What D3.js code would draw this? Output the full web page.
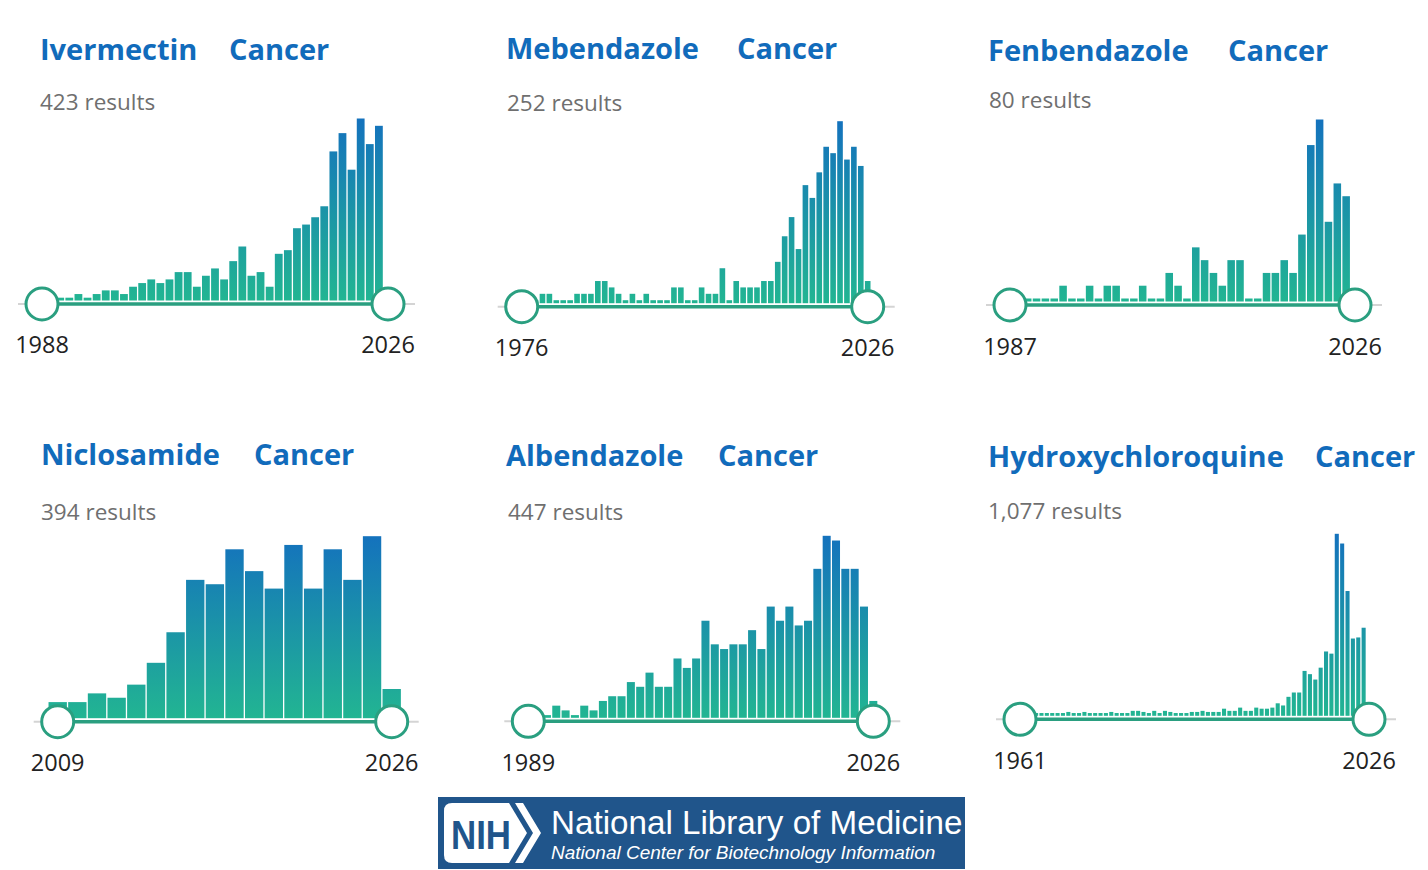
<!DOCTYPE html>
<html><head><meta charset="utf-8">
<script src="https://cdn.jsdelivr.net/npm/d3@7"></script>
<style>html,body{margin:0;padding:0;background:#fff;} svg{display:block;}</style>
</head><body>
<svg id="chart" width="1428" height="870"></svg>
<script>
// ---------------- data ----------------
const drugNames = ["Ivermectin", "Mebendazole", "Fenbendazole", "Niclosamide", "Albendazole", "Hydroxychloroquine"];
const queryTerm = "Cancer";
const resultLabels = ["423 results", "252 results", "80 results", "394 results", "447 results", "1,077 results"];
const startYears = [1988, 1976, 1987, 2009, 1989, 1961];
const endYear = 2026;

// publications per year, from the start year through 2026
const ivermectinCounts = [0,0,0,0,1,0,1,2,2,1, 3,4,5,4,5,7,7,3,6,8, 5,10,14,6,7,3,12,13,19,20, 22,25,40,45,35,49,42,47,2];
const mebendazoleCounts = [0,0,0,1,1,0,0,0,1,1, 1,3,3,2,1,0,1,0,1,0, 0,0,2,2,0,0,2,1,1,5, 0,3,2,2,2,3,3,6,10,13, 8,18,16,20,24,23,28,22,24,21, 3];
const fenbendazoleCounts = [0,0,0,0,0,0,1,0,0,1, 0,1,1,0,0,1,0,0,2,1, 0,4,3,2,1,3,3,0,0,2, 2,3,2,5,12,14,6,9,8,0];
const niclosamideCounts = [3,3,5,4,7,12,19,31,30,38,33,29,39,29,38,31,41,6];
const albendazoleCounts = [0,0,0,2,1,0,2,1,3,4, 4,7,6,9,6,6,12,10,12,20, 15,14,15,15,18,14,23,20,23,19, 20,31,38,37,31,31,23,3];
const hydroxychloroquineCounts = [1,1,1,1,1,1,1,1,1,2, 1,1,2,1,1,1,1,2,1,1, 1,3,3,2,1,3,1,3,2,1, 1,1,2,2,3,2,2,2,5,3, 3,6,3,3,6,5,5,6,10,8, 16,20,20,40,37,32,43,58,56,167, 158,114,70,71,80,5];

const seriesCounts = [ivermectinCounts, mebendazoleCounts, fenbendazoleCounts, niclosamideCounts, albendazoleCounts, hydroxychloroquineCounts];

// ---------------- layout ----------------
const layout = [
  {titleX: 40,  cancerX: 229,  titleY: 59.5,  resX: 40,  resY: 110, cxL: 42,    cxR: 388,   cy: 304,   yearY: 353, minH: 2.8},
  {titleX: 506, cancerX: 737,  titleY: 58.5,  resX: 507, resY: 111, cxL: 521.7, cxR: 867.7, cy: 306.7, yearY: 356, minH: 3},
  {titleX: 988, cancerX: 1228, titleY: 60.5,  resX: 989, resY: 108, cxL: 1010,  cxR: 1355,  cy: 305,   yearY: 355, minH: 3},
  {titleX: 41,  cancerX: 254,  titleY: 464.5, resX: 41,  resY: 520, cxL: 57.7,  cxR: 391.7, cy: 721.7, yearY: 771, minH: 3},
  {titleX: 506, cancerX: 718,  titleY: 465.5, resX: 508, resY: 520, cxL: 528.3, cxR: 873.3, cy: 721.3, yearY: 771, minH: 2.7},
  {titleX: 988, cancerX: 1315, titleY: 466.5, resX: 988, resY: 519, cxL: 1020,  cxR: 1369,  cy: 719.3, yearY: 769, minH: 1.7}
];

const CHART_H = 182;
const TEAL = "#2a9f80";
const titleColor = "#116bbb";

const svg = d3.select("#chart");
svg.append("rect").attr("width", 1428).attr("height", 870).attr("fill", "#fff");
const defs = svg.append("defs");

seriesCounts.forEach((counts, i) => {
  const L = layout[i];
  const years = d3.range(startYears[i], endYear + 1);
  const base = L.cy - 3.5;
  const x = d3.scaleLinear().domain([startYears[i], endYear]).range([L.cxL, L.cxR]);
  const pitch = x(startYears[i] + 1) - x(startYears[i]);
  const bw = pitch - 1.3;
  const y = d3.scaleLinear().domain([0, d3.max(counts)]).range([base - L.minH, base - CHART_H]);

  const gid = "grad" + i;
  const g = defs.append("linearGradient").attr("id", gid)
    .attr("gradientUnits", "userSpaceOnUse")
    .attr("x1", 0).attr("x2", 0).attr("y1", base).attr("y2", base - CHART_H);
  g.append("stop").attr("offset", "0%").attr("stop-color", "#22b592");
  g.append("stop").attr("offset", "100%").attr("stop-color", "#1472bd");

  const panel = svg.append("g");

  panel.append("g").selectAll("rect").data(years.map((yr, k) => ({yr, v: counts[k]})))
    .join("rect")
    .attr("x", d => x(d.yr) - bw / 2)
    .attr("width", bw)
    .attr("y", d => y(d.v))
    .attr("height", d => base - y(d.v))
    .attr("fill", `url(#${gid})`);

  // slider
  panel.append("line").attr("x1", L.cxL - 24).attr("x2", L.cxR + 27)
    .attr("y1", L.cy).attr("y2", L.cy).attr("stroke", "#d4d4d4").attr("stroke-width", 2);
  panel.append("line").attr("x1", L.cxL).attr("x2", L.cxR)
    .attr("y1", L.cy).attr("y2", L.cy).attr("stroke", TEAL).attr("stroke-width", 3.5);
  [L.cxL, L.cxR].forEach(cx => {
    panel.append("circle").attr("cx", cx).attr("cy", L.cy).attr("r", 16)
      .attr("fill", "#fff").attr("stroke", TEAL).attr("stroke-width", 3);
  });

  // year labels
  [startYears[i], endYear].forEach(yr => {
    panel.append("text").attr("x", x(yr)).attr("y", L.yearY)
      .attr("text-anchor", "middle")
      .attr("font-family", "'Open Sans', sans-serif").attr("font-size", 23.5)
      .attr("fill", "#222").text(yr);
  });

  // title
  panel.append("text").attr("x", L.titleX).attr("y", L.titleY)
    .attr("font-family", "'Open Sans', sans-serif").attr("font-weight", 700)
    .attr("font-size", 29).attr("fill", titleColor).text(drugNames[i]);
  panel.append("text").attr("x", L.cancerX).attr("y", L.titleY)
    .attr("font-family", "'Open Sans', sans-serif").attr("font-weight", 700)
    .attr("font-size", 29).attr("fill", titleColor).text(queryTerm);

  panel.append("text").attr("x", L.resX).attr("y", L.resY)
    .attr("font-family", "'Open Sans', sans-serif").attr("font-size", 22.5)
    .attr("fill", "#6f6f6f").text(resultLabels[i]);
});

// ---------------- NLM logo ----------------
const logo = svg.append("g");
const logoBlue = "#20558b";
logo.append("rect").attr("x", 438).attr("y", 797).attr("width", 527).attr("height", 72).attr("fill", logoBlue);
logo.append("path")
  .attr("d", "M452 803 H509 L527 833 L509 863 H452 Q444 863 444 855 V811 Q444 803 452 803 Z")
  .attr("fill", "#fff");
logo.append("path")
  .attr("d", "M515 803 H523 L541 833 L523 863 H515 L533 833 Z")
  .attr("fill", "#fff");
logo.append("text").attr("x", 451).attr("y", 849)
  .attr("font-family", "'Liberation Sans', Arial, sans-serif").attr("font-weight", 700)
  .attr("font-size", 40).attr("textLength", 60).attr("lengthAdjust", "spacingAndGlyphs")
  .attr("fill", logoBlue).text("NIH");
logo.append("text").attr("x", 551).attr("y", 834)
  .attr("font-family", "'Liberation Sans', Arial, sans-serif")
  .attr("font-size", 33.2).attr("fill", "#fff").text("National Library of Medicine");
logo.append("text").attr("x", 551).attr("y", 859)
  .attr("font-family", "'Liberation Sans', Arial, sans-serif").attr("font-style", "italic")
  .attr("font-size", 19).attr("fill", "#fff").text("National Center for Biotechnology Information");
</script>
</body></html>
